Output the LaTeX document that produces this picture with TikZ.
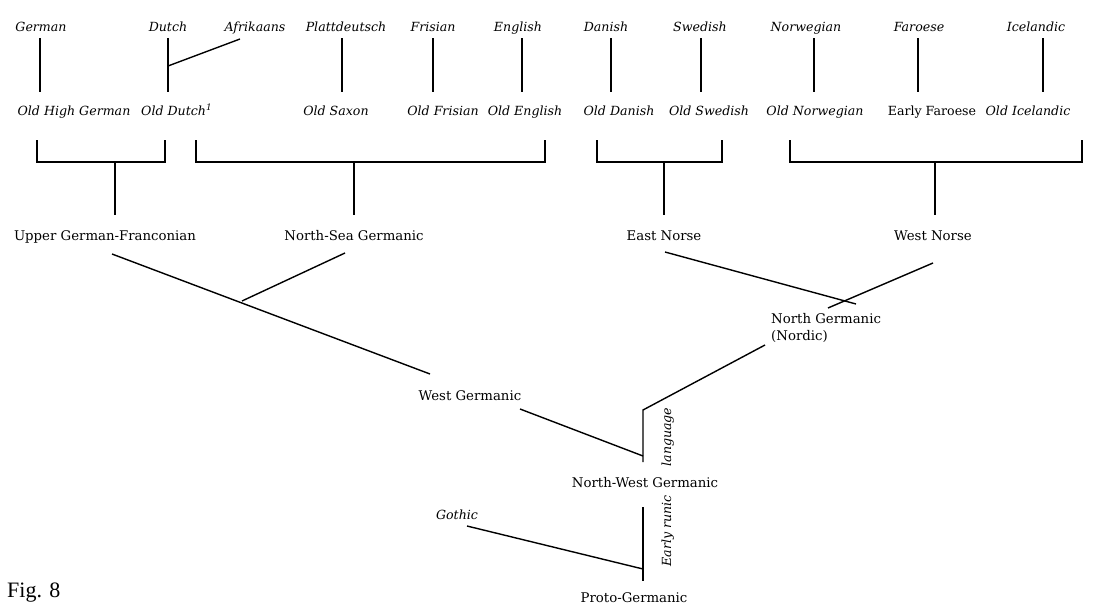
\documentclass[tikz,border=0pt]{standalone}
\usepackage{fontspec}
\setmainfont{DejaVu Serif}
\newfontfamily\figfont{Liberation Serif}
\newcommand\itlab{\fontsize{12.6}{15}\selectfont\itshape}
\newcommand\uplab{\fontsize{13.3}{15}\selectfont}
\newcommand\upsmall{\fontsize{12.6}{15}\selectfont}
\begin{document}
\begin{tikzpicture}[x=1pt,y=-1pt,
  it/.style={font=\itlab, inner sep=0pt, anchor=base},
  up/.style={font=\uplab, inner sep=0pt, anchor=base},
  ln/.style={line width=1.4pt, line cap=butt}]
\clip (0,0) rectangle (1100,605);
\fill[white] (0,0) rectangle (1100,605);

% ---- top row: modern languages
\node[it] (german) at (41,31) {German};
\node[it] (dutch)  at (168,31) {Dutch};
\node[it] (afrik)  at (255,31) {Afrikaans};
\node[it] (platt)  at (346,31) {Plattdeutsch};
\node[it] (fris)   at (433,31) {Frisian};
\node[it] (engl)   at (518,31) {English};
\node[it] (dan)    at (606,31) {Danish};
\node[it] (swe)    at (700,31) {Swedish};
\node[it] (nor)    at (806,31) {Norwegian};
\node[it] (far)    at (919,31) {Faroese};
\node[it] (ice)    at (1036,31) {Icelandic};

% ---- second row: old languages
\node[it] (ohg)  at (74,115) {Old High German};
\node[it, anchor=base west] (odu) at (141,115) {Old Dutch\textsuperscript{1}};
\node[it] (osax) at (336,115) {Old Saxon};
\node[it] (ofri) at (443,115) {Old Frisian};
\node[it] (oeng) at (525,115) {Old English};
\node[it] (odan) at (619,115) {Old Danish};
\node[it] (oswe) at (709,115) {Old Swedish};
\node[it] (onor) at (815,115) {Old Norwegian};
\node[up, font=\upsmall] (efar) at (932,115) {Early Faroese};
\node[it] (oice) at (1028,115) {Old Icelandic};

% ---- vertical connectors top -> old
\foreach \n/\x in {german/40, dutch/168, platt/342, fris/433, engl/522,
                   dan/611, swe/701, nor/814, far/918, ice/1043}{
  \coordinate (\n T) at (\x,38);
  \coordinate (\n B) at (\x,92);
  \draw[ln] (\n T) -- (\n B);
}
\coordinate (afrT) at (240,39);
\coordinate (afrJ) at (168,66);
\draw[ln] (afrT) -- (afrJ);

% ---- third row groups
\node[up] (ugf) at (105,240) {Upper German-Franconian};
\node[up] (nsg) at (354,240) {North-Sea Germanic};
\node[up] (en)  at (664,240) {East Norse};
\node[up] (wn)  at (933,240) {West Norse};

% ---- brackets
\foreach \n/\l/\r/\s in {b1/37/165/115, b2/196/545/354, b3/597/722/664, b4/790/1082/935}{
  \coordinate (\n L) at (\l,140);
  \coordinate (\n R) at (\r,140);
  \coordinate (\n S) at (\s,162);
  \coordinate (\n E) at (\s,215);
  \draw[ln] (\n L) |- (\n R |- \n S) -- (\n R);
  \draw[ln] (\n S) -- (\n E);
}

% ---- lower nodes
\node[up] (wg) at (470,400) {West Germanic};
\node[up, anchor=base west] (ng) at (771,323) {North Germanic};
\node[up, anchor=base west] (ngb) at (771,340) {(Nordic)};
\node[up] (nwg) at (645,487) {North-West Germanic};
\node[it] (goth) at (457,519) {Gothic};
\node[up] (pg) at (634,602) {Proto-Germanic};
\node[it, rotate=90, anchor=base] (lang) at (671,437) {language};
\node[it, rotate=90, anchor=base] (erun) at (671,531) {Early runic};

% ---- tree connectors
\coordinate (ugfS) at (112,254);
\coordinate (wgN)  at (430,374);
\coordinate (nsgS) at (345,253);
\coordinate (wJ)   at (242,301);
\draw[ln] (ugfS) -- (wgN);
\draw[ln] (nsgS) -- (wJ);

\coordinate (enS) at (665,252);
\coordinate (nJ)  at (856,304);
\coordinate (wnS) at (933,263);
\coordinate (ngN) at (828,308);
\draw[ln] (enS) -- (nJ);
\draw[ln] (wnS) -- (ngN);

\coordinate (ngS)  at (765,345);
\coordinate (vTop) at (643,410);
\coordinate (vBot) at (643,462);
\coordinate (wgS)  at (520,409);
\coordinate (wgE)  at (643,456);
\draw[ln] (ngS) -- (vTop) -- (vBot);
\draw[ln] (wgS) -- (wgE);

\coordinate (v2Top) at (643,507);
\coordinate (v2Bot) at (643,581);
\coordinate (gothS) at (467,526);
\coordinate (gothE) at (643,569);
\draw[ln] (v2Top) -- (v2Bot);
\draw[ln] (gothS) -- (gothE);

% ---- figure caption
\node[font=\figfont\fontsize{22}{24}\selectfont, inner sep=0pt, anchor=base west] (fig) at (7,597) {Fig. 8};
\end{tikzpicture}
\end{document}
